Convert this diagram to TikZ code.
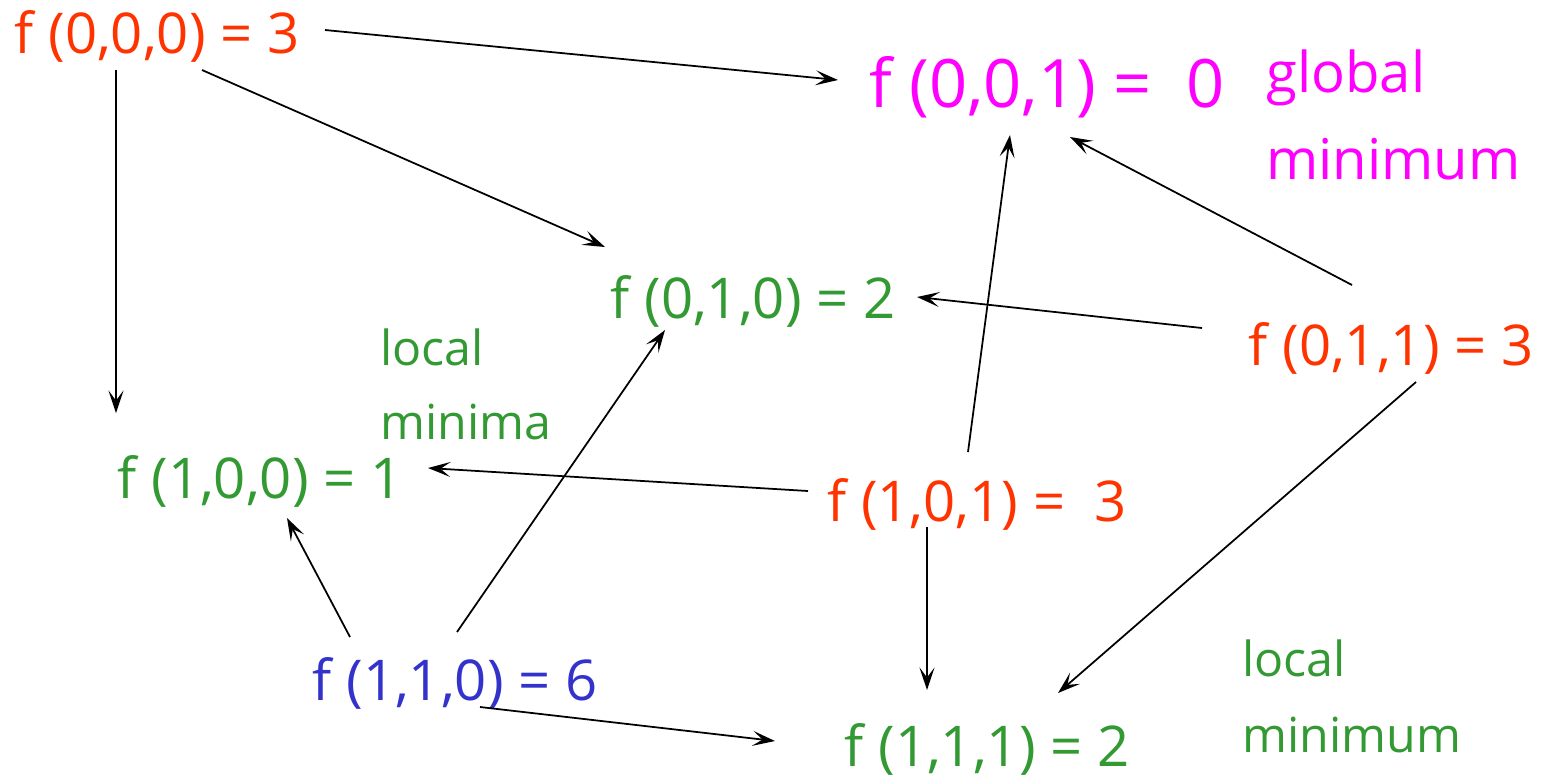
\documentclass[tikz,border=0pt]{standalone}
\usepackage{fontspec}
\setmainfont{Open Sans}
\usepackage{xcolor}
\usepackage{tikz}
\usetikzlibrary{arrows.meta,calc}
\definecolor{hot}{HTML}{FF3300}
\definecolor{pink}{HTML}{FF00FF}
\definecolor{leaf}{HTML}{339933}
\definecolor{deep}{HTML}{3333CC}
\tikzset{
  fval/.style   ={text=#1, anchor=base, inner sep=0pt, font=\fontsize{32}{38}\selectfont},
  note/.style   ={text=#1, anchor=base west, align=left, inner sep=0pt},
  move/.style   ={-{Stealth[length=4.5mm, width=3mm, inset=2mm]}, line width=1pt},
}

\begin{document}
\begin{tikzpicture}[x=0.02cm, y=-0.02cm]
\useasboundingbox (0,0) rectangle (1545,779);
% ---- function values at the cube corners
\node[fval=hot]  (f000) at (157,53)  {f (0,0,0) = 3};
\node[fval=pink, font=\fontsize{38}{44}\selectfont] (f001) at (1047,107) {f (0,0,1) =\ \ 0};
\node[fval=leaf] (f010) at (753,318)  {f (0,1,0) = 2};
\node[fval=hot]  (f011) at (1391,365) {f (0,1,1) = 3};
\node[fval=leaf] (f100) at (260,498)  {f (1,0,0) = 1};
\node[fval=hot]  (f101) at (977,521)  {f (1,0,1) =\ \ 3};
\node[fval=deep] (f110) at (455,700)  {f (1,1,0) = 6};
\node[fval=leaf] (f111) at (987,766)  {f (1,1,1) = 2};

% ---- notes (anchored at the baseline of their last line)
\node[note=pink, font=\fontsize{32}{49}\selectfont] (gmin) at (1266,179)  {global\\minimum};
\node[note=leaf, font=\fontsize{27.5}{42}\selectfont] (lmin) at (380,439)  {local\\minima};
\node[note=leaf, font=\fontsize{27.5}{43}\selectfont] (lmone) at (1242,752) {local\\minimum};

% ---- neighbour moves
\draw[move] ($(f000.base)+(168,-23)$) -- ($(f001.base)+(-209,-27)$);
\draw[move] ($(f000.base)+(45,17)$)   -- ($(f010.base)+(-148,-71)$);
\draw[move] ($(f000.base)+(-41,17)$)  -- ($(f100.base)+(-144,-85)$);
\draw[move] ($(f011.base)+(-39,-80)$) -- ($(f001.base)+(23,30)$);
\draw[move] ($(f011.base)+(-189,-37)$) -- ($(f010.base)+(164,-21)$);
\draw[move] ($(f011.base)+(25,17)$)   -- ($(f111.base)+(71,-73)$);
\draw[move] ($(f101.base)+(-9,-69)$)  -- ($(f001.base)+(-37,28)$);
\draw[move] ($(f101.base)+(-169,-30)$) -- ($(f100.base)+(168,-30)$);
\draw[move] ($(f101.base)+(-50,6)$)   -- ($(f111.base)+(-60,-76)$);
\draw[move] ($(f110.base)+(-105,-63)$) -- ($(f100.base)+(27,20)$);
\draw[move] ($(f110.base)+(2,-68)$)   -- ($(f010.base)+(-88,12)$);
\draw[move] ($(f110.base)+(25,7)$)    -- ($(f111.base)+(-212,-25)$);
\end{tikzpicture}
\end{document}
